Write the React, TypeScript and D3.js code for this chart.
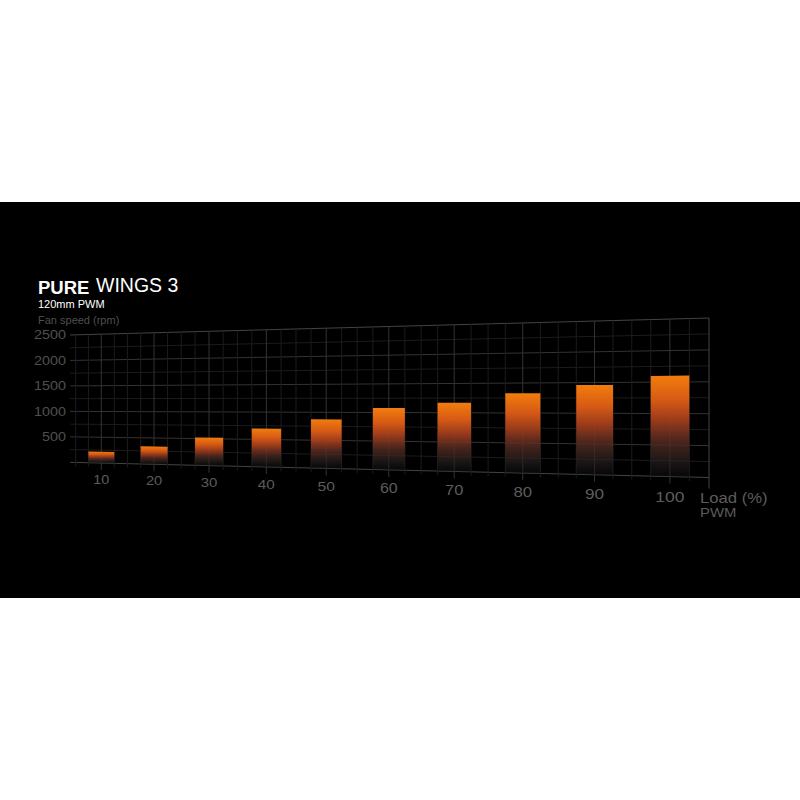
import React from 'react';
import * as d3 from 'd3';

// Fan speed (rpm) per PWM load step
const loads = [10, 20, 30, 40, 50, 60, 70, 80, 90, 100];
const speeds = [220, 340, 520, 700, 875, 1080, 1170, 1330, 1460, 1600];
const yTicks = [500, 1000, 1500, 2000, 2500];

const W = 800;
const H = 800;
const FONT = '"Liberation Sans", Arial, Helvetica, sans-serif';

// perspective plane: left edge (load 5) is farther away than right edge (load 105)
const plane = { xl: 75.7, xr: 709, x0: 70, topY0: 335, topSlope: -0.0266, botY0: 462.3, botSlope: 0.02379 };
const depthRatio = 0.8;

const tScale = d3.scaleLinear().domain([5, 105]).range([0, 1]);
const rpmScale = d3.scaleLinear().domain([0, 2500]).range([0, 1]);

const px = (load: number) => {
  const t = tScale(load);
  const g = (depthRatio * t) / (1 - (1 - depthRatio) * t);
  return plane.xl + (plane.xr - plane.xl) * g;
};
const topAt = (x: number) => plane.topY0 + (x - plane.x0) * plane.topSlope;
const botAt = (x: number) => plane.botY0 + (x - plane.x0) * plane.botSlope;
const proj = (load: number, rpm: number): [number, number] => {
  const x = px(load);
  const y = d3.scaleLinear().domain([0, 1]).range([botAt(x), topAt(x)])(rpmScale(rpm));
  return [x, y];
};

const gridLoads = d3.range(5, 105.01, 2.5);
const gridRpms = d3.range(0, 2500.01, 250);

const App: React.FC = () => {
  const barHalf = 2.5;
  return (
    <svg width={W} height={H} style={{ position: 'absolute', left: 0, top: 0, display: 'block', background: '#fff' }}>
      <defs>
        <linearGradient id="barGrad" x1="0" y1="0" x2="0" y2="1">
          <stop offset="0%" stopColor="#f27d0c" stopOpacity={1} />
          <stop offset="24%" stopColor="#d65a15" stopOpacity={1} />
          <stop offset="44%" stopColor="#a33e1c" stopOpacity={0.95} />
          <stop offset="64%" stopColor="#5a2c22" stopOpacity={0.85} />
          <stop offset="84%" stopColor="#2a2220" stopOpacity={0.7} />
          <stop offset="100%" stopColor="#141414" stopOpacity={0.4} />
        </linearGradient>
      </defs>
      <rect x={0} y={202} width={W} height={396} fill="#000" />

      {/* grid: horizontal lines */}
      {gridRpms.map(r => {
        const [x1, y1] = proj(3.9, r);
        const [x2, y2] = proj(105, r);
        const major = r % 500 === 0;
        const edge = r === 0 || r === 2500;
        return (
          <line key={'h' + r} x1={x1} y1={y1} x2={x2} y2={y2}
            stroke={edge ? '#444' : major ? '#333' : '#1c1c1c'} strokeWidth={1} />
        );
      })}
      {/* grid: vertical lines */}
      {gridLoads.map(l => {
        const [x, yTop] = proj(l, 2500);
        const [, yBot] = proj(l, 0);
        const major = l % 10 === 0;
        const edge = l === 105;
        const ext = edge ? 11 : major ? 7 : 4;
        return (
          <line key={'v' + l} x1={x} y1={yTop} x2={x} y2={yBot + ext}
            stroke={edge ? '#444' : major ? '#333' : '#1c1c1c'} strokeWidth={1} />
        );
      })}

      {/* bars */}
      {loads.map((l, i) => {
        const pts = [
          proj(l - barHalf, 0),
          proj(l - barHalf, speeds[i]),
          proj(l + barHalf, speeds[i]),
          proj(l + barHalf, 0),
        ];
        return <polygon key={'b' + l} points={pts.map(p => p.join(',')).join(' ')} fill="url(#barGrad)" />;
      })}

      {/* x labels */}
      {loads.map(l => {
        const x = px(l);
        const h = botAt(x) - topAt(x);
        const y = botAt(x) + 0.16 * h;
        return (
          <text key={'xl' + l} transform={`translate(${x},${y}) scale(1.15,1)`} textAnchor="middle"
            fontFamily={FONT} fontSize={0.097 * h} fill="#5c5c5c">{l}</text>
        );
      })}
      <text transform="translate(700,503) scale(1.15,1)" fontFamily={FONT} fontSize={14.5} fill="#5c5c5c">Load (%)</text>
      <text transform="translate(700,517) scale(1.1,1)" fontFamily={FONT} fontSize={13.5} fill="#5c5c5c">PWM</text>

      {/* y labels */}
      {yTicks.map(r => {
        const [, y] = proj(3.9, r);
        return (
          <text key={'yl' + r} transform={`translate(66,${y + 4.2}) scale(1.2,1)`} textAnchor="end"
            fontFamily={FONT} fontSize={12} fill="#4f4f4f">{r}</text>
        );
      })}

      {/* title block */}
      <text x={38} y={294} fontFamily={FONT} fontSize={18.5} fontWeight="bold" fill="#fff">PURE</text>
      <text x={96} y={292} fontFamily={FONT} fontSize={19.5} fill="#fff">WINGS 3</text>
      <text x={38} y={308} fontFamily={FONT} fontSize={11} fill="#fff">120mm PWM</text>
      <text x={38} y={324} fontFamily={FONT} fontSize={11} fill="#4f4f4f">Fan speed (rpm)</text>
    </svg>
  );
};

export default App;
